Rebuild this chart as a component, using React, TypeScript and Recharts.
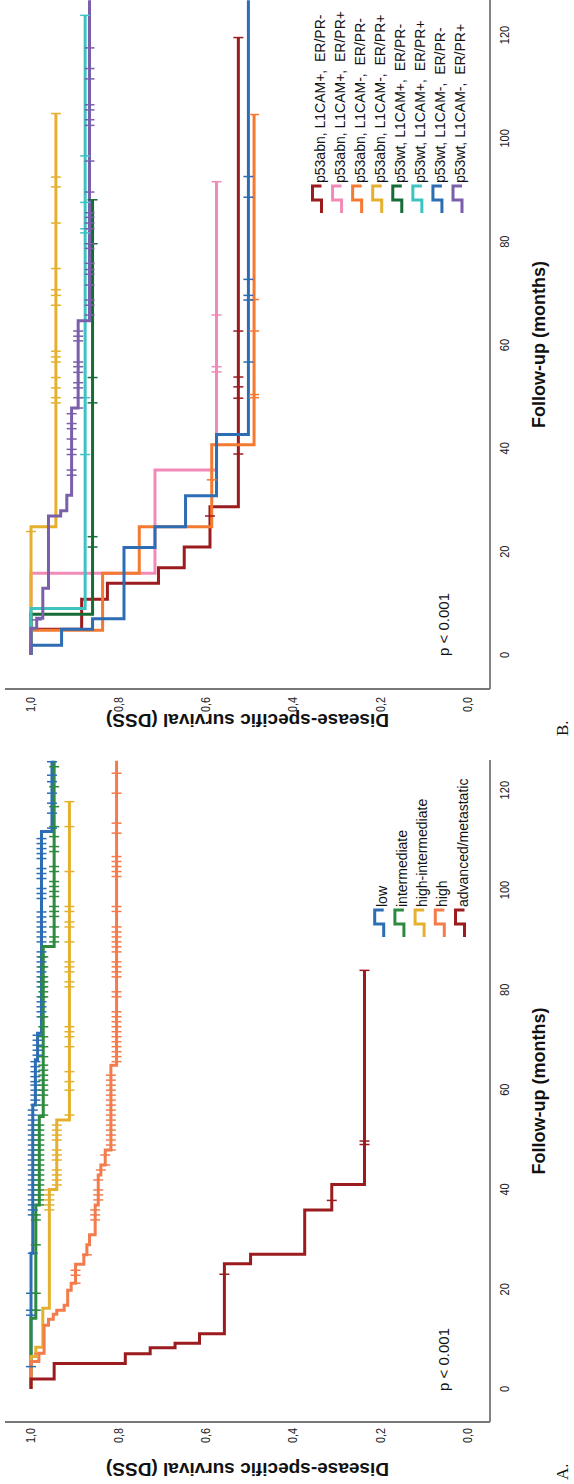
import React from "react";
import { ComposedChart, Line, Scatter, XAxis, YAxis } from "recharts";

type Step = [number, number]; // [month, survival]

const FONT = '"Liberation Sans", Arial, sans-serif';
const monthTicks = [0, 20, 40, 60, 80, 100, 120];
const survivalTicks = [0, 0.2, 0.4, 0.6, 0.8, 1.0];

// ---- Panel A: risk groups ----
const riskNames = ["low", "intermediate", "high-intermediate", "high", "advanced/metastatic"];
const riskColors = ["#2c6db4", "#2d8a3e", "#e6b02f", "#f47b4b", "#9c1b1f"];

const lowSteps: Step[] = [[0, 1], [27.2, 0.996], [56.9, 0.99], [66, 0.985], [71.3, 0.976], [111.7, 0.952], [125.9, 0.952]];
const intermediateSteps: Step[] = [[0, 1], [14.2, 0.989], [36.9, 0.981], [54.6, 0.972], [88.7, 0.947], [125.9, 0.947]];
const highIntSteps: Step[] = [[0, 1], [6.5, 0.989], [8.4, 0.973], [16.2, 0.958], [40, 0.941], [53.9, 0.912], [117.7, 0.912]];
const highSteps: Step[] = [
  [0, 1], [5.5, 0.982], [7.2, 0.97], [12.8, 0.96], [14, 0.949], [15, 0.941], [15.8, 0.924], [16.8, 0.916],
  [19.8, 0.908], [21.2, 0.898], [25, 0.879], [26.9, 0.872], [28.9, 0.866], [30.9, 0.853], [36.9, 0.846],
  [42.9, 0.84], [44.9, 0.83], [47.9, 0.817], [64.9, 0.804], [125.9, 0.804]
];
const advancedSteps: Step[] = [
  [0, 1], [2.0, 0.947], [5.1, 0.784], [7.1, 0.727], [8.3, 0.67], [9.2, 0.614], [11.1, 0.557],
  [25.1, 0.497], [27.0, 0.373], [35.9, 0.311], [41.0, 0.236], [83.9, 0.236]
];

const lowCensor = [4.5, 14.8, 15.8, 19.2, 27.2, 34.9, 35.9, 36.9, 37.9, 38.9, 39.9, 40.9, 41.9, 42.9, 43.9, 44.9, 45.9, 46.9,
  47.9, 48.9, 49.9, 50.9, 51.9, 52.9, 53.9, 54.9, 55.9, 56.9, 57.9, 58.9, 59.9, 60.9, 61.6, 62.6, 63.6, 64.6, 65.6, 66.9,
  67.9, 68.9, 69.9, 70.9, 74.6, 75.6, 76.6, 77.6, 78.6, 80.6, 81.6, 82.6, 83.6, 84.6, 85.6, 86.6, 87.6, 89.6, 90.6, 91.6,
  92.6, 93.6, 94.6, 95.6, 98.3, 99.3, 100.3, 102.3, 103.3, 104.3, 106.3, 107.3, 108.3, 109.3, 110.3, 112.4, 115.4, 117.4,
  119.4, 121.7, 123.0, 125.7];
const intermediateCensor = [15.8, 19.2, 28.9, 33.9, 34.9, 36.9, 37.9, 38.9, 39.9, 40.9, 41.9, 42.9, 43.9, 44.9, 45.9, 46.9,
  47.9, 48.9, 49.9, 50.9, 51.9, 52.9, 54.9, 56.9, 58.9, 59.9, 60.9, 61.9, 62.9, 63.9, 64.9, 66.6, 68.6, 70.6, 72.6, 74.6,
  78.6, 79.6, 80.6, 81.6, 82.6, 84.6, 86.6, 89.6, 90.6, 92.6, 94.7, 95.7, 96.7, 98.7, 99.7, 100.7, 101.7, 103.7, 104.7,
  107.7, 108.7, 110.7, 112.7, 116.7, 120.7, 124.7];
const highIntCensor = [35.9, 36.9, 37.9, 38.9, 39.9, 40.9, 41.9, 42.9, 43.9, 45.9, 46.9, 47.9, 49.9, 50.9, 51.9, 52.9, 54.9,
  59.9, 61.6, 63.6, 68.6, 70.6, 71.6, 72.6, 80.6, 81.6, 83.6, 84.6, 85.6, 89.6, 92.6, 93.6, 95.7, 96.7, 103.7, 112.7, 117.7];
const highCensor = [7.1, 21.2, 22.8, 23.8, 26.9, 33.9, 34.9, 35.9, 37.9, 38.9, 39.9, 41.9, 43.9, 44.9, 46.9, 47.9, 48.9,
  49.9, 50.9, 51.9, 52.9, 53.9, 54.9, 55.9, 56.9, 57.9, 58.9, 59.9, 60.9, 61.9, 62.9, 65.6, 66.6, 67.6, 68.6, 69.6, 70.6,
  71.6, 72.6, 73.6, 74.6, 75.6, 78.6, 79.6, 82.6, 83.6, 84.6, 85.6, 87.6, 88.6, 89.6, 90.6, 91.6, 92.6, 95.7, 96.7, 102.7,
  103.7, 104.7, 105.7, 106.7, 111.4, 113.4, 119.4, 123.4];
const advancedCensor = [23.0, 37.8, 49.0, 49.7, 83.9];

// ---- Panel B: p53 / L1CAM / ER-PR groups ----
const groupNames = [
  "p53abn, L1CAM+,  ER/PR-", "p53abn, L1CAM+,  ER/PR+", "p53abn, L1CAM-,  ER/PR-", "p53abn, L1CAM-,  ER/PR+",
  "p53wt, L1CAM+,  ER/PR-", "p53wt, L1CAM+,  ER/PR+", "p53wt, L1CAM-,  ER/PR-", "p53wt, L1CAM-,  ER/PR+"
];
const groupColors = ["#9c1b1f", "#f28ab8", "#f47a32", "#e6b02f", "#176b37", "#3ec3c3", "#2c6db4", "#7a5fab"];

const abnPosNegSteps: Step[] = [[0, 1], [5.0, 0.884], [10.8, 0.825], [13.9, 0.708], [16.9, 0.649], [20.9, 0.59], [28.7, 0.525], [119.5, 0.525]];
const abnPosPosSteps: Step[] = [[0, 1], [15.8, 0.716], [35.8, 0.575], [91.6, 0.575]];
const abnNegNegSteps: Step[] = [[0, 1], [4.8, 0.836], [15.8, 0.752], [24.8, 0.586], [40.7, 0.489], [104.6, 0.489]];
const abnNegPosSteps: Step[] = [[0, 1], [24.8, 0.943], [104.8, 0.943]];
const wtPosNegSteps: Step[] = [[0, 1], [7.9, 0.859], [88.1, 0.859]];
const wtPosPosSteps: Step[] = [[0, 1], [9.0, 0.876], [123.8, 0.876]];
const wtNegNegSteps: Step[] = [[0, 1], [1.9, 0.93], [5.0, 0.859], [7.0, 0.787], [20.8, 0.716], [24.8, 0.646], [30.8, 0.575], [42.7, 0.502], [126.7, 0.502]];
const wtNegPosSteps: Step[] = [[0, 1], [5.2, 0.987], [7.1, 0.973], [12.9, 0.96], [26.9, 0.932], [27.9, 0.918], [30.9, 0.907], [47.8, 0.892], [64.7, 0.866], [126.7, 0.866]];

const abnPosNegCensor = [26.9, 38.9, 49.7, 51.9, 53.8, 62.7, 119.5];
const abnPosPosCensor = [54.8, 55.8, 65.8, 91.6];
const abnNegNegCensor = [33.9, 49.8, 50.4, 62.7, 68.8, 104.6];
const abnNegPosCensor = [23.9, 48.8, 49.8, 51.7, 53.7, 56.7, 57.7, 58.8, 67.7, 69.6, 70.7, 74.8, 83.6, 90.6, 92.5, 104.8];
const wtPosNegCensor = [20.9, 22.9, 48.8, 53.7, 79.6, 88.1];
const wtPosPosCensor = [38.8, 49.8, 81.7, 82.5, 87.6, 96.6, 123.8];
const wtNegNegCensor = [56.7, 68.7, 69.6, 72.7, 88.6, 92.6];
const wtNegPosCensor = [6.8, 34.8, 35.8, 38.8, 39.8, 41.8, 43.8, 44.8, 46.7, 47.8, 49.8, 51.7, 52.7, 54.7, 55.8, 56.7, 60.8,
  61.7, 62.7, 65.8, 67.7, 68.7, 71.6, 73.7, 74.6, 75.8, 78.7, 79.6, 82.5, 83.6, 84.7, 85.6, 89.6, 95.6, 102.5, 103.6, 105.5,
  106.5, 111.5, 113.5, 117.5];

type Series = { steps: Step[]; censor: number[]; color: string };

const panelA: Series[] = [
  { steps: lowSteps, censor: lowCensor, color: riskColors[0] },
  { steps: intermediateSteps, censor: intermediateCensor, color: riskColors[1] },
  { steps: highIntSteps, censor: highIntCensor, color: riskColors[2] },
  { steps: highSteps, censor: highCensor, color: riskColors[3] },
  { steps: advancedSteps, censor: advancedCensor, color: riskColors[4] }
];
const panelB: Series[] = [
  { steps: abnPosNegSteps, censor: abnPosNegCensor, color: groupColors[0] },
  { steps: abnPosPosSteps, censor: abnPosPosCensor, color: groupColors[1] },
  { steps: abnNegNegSteps, censor: abnNegNegCensor, color: groupColors[2] },
  { steps: abnNegPosSteps, censor: abnNegPosCensor, color: groupColors[3] },
  { steps: wtPosNegSteps, censor: wtPosNegCensor, color: groupColors[4] },
  { steps: wtPosPosSteps, censor: wtPosPosCensor, color: groupColors[5] },
  { steps: wtNegNegSteps, censor: wtNegNegCensor, color: groupColors[6] },
  { steps: wtNegPosSteps, censor: wtNegPosCensor, color: groupColors[7] }
];

function survivalAt(steps: Step[], m: number) {
  let s = steps[0][1];
  for (const [t, v] of steps) if (t <= m) s = v;
  return s;
}

function XTick({ x, y, payload }: any) {
  return (
    <text transform={`translate(${x},${y}) scale(0.85,1)`} textAnchor="middle" dy="0.36em" fontSize={13} fill="#222" fontFamily={FONT}>
      {payload.value}
    </text>
  );
}

function YTick({ x, y, payload }: any) {
  return (
    <text transform={`translate(${x},${y}) scale(0.9,1)`} textAnchor="end" dy="0.36em" fontSize={12} fill="#222" fontFamily={FONT}>
      {Number(payload.value).toFixed(1).replace(".", ",")}
    </text>
  );
}

const censorShape = (color: string) => (props: any) => (
  <line x1={props.cx} x2={props.cx} y1={props.cy - 5} y2={props.cy + 5} stroke={color} strokeWidth={1.5} />
);

function Panel({ series, left, width, yAxisW, right, xDomain, tickGap }: {
  series: Series[]; left: number; width: number; yAxisW: number; right: number; xDomain: [number, number]; tickGap: number;
}) {
  return (
    <div style={{ position: "absolute", left, top: 0 }}>
      <ComposedChart width={width} height={574} margin={{ top: 5, right, left: 0, bottom: 0 }}>
        <XAxis type="number" dataKey="m" domain={xDomain} ticks={monthTicks} allowDataOverflow height={84}
          tickSize={0} tickMargin={14} tick={<XTick />} axisLine={{ stroke: "#777", strokeWidth: 1.8 }} tickLine={false} />
        <YAxis type="number" dataKey="s" domain={[-0.0515, 1.0596]} ticks={survivalTicks} allowDataOverflow width={yAxisW}
          tickSize={0} tickMargin={tickGap} tick={<YTick />} axisLine={{ stroke: "#777", strokeWidth: 1.8 }} tickLine={false} />
        {series.map((sr, i) => (
          <Line key={`l${i}`} data={sr.steps.map(([m, s]) => ({ m, s }))} dataKey="s" type="stepAfter"
            stroke={sr.color} strokeWidth={3} dot={false} activeDot={false} isAnimationActive={false} />
        ))}
        {series.map((sr, i) => (
          <Scatter key={`c${i}`} data={sr.censor.map((m) => ({ m, s: survivalAt(sr.steps, m) }))} dataKey="s"
            shape={censorShape(sr.color)} isAnimationActive={false} />
        ))}
      </ComposedChart>
    </div>
  );
}

function LegendItems({ names, colors, x0, cy0, gap }: { names: string[]; colors: string[]; x0: number; cy0: number; gap: number }) {
  return (
    <g>
      {names.map((n, i) => {
        const cy = cy0 + gap * i;
        return (
          <g key={n}>
            <path d={`M${x0} ${cy + 4.5} H${x0 + 13} V${cy - 4.5} H${x0 + 27} V${cy + 4.5}`} fill="none" stroke={colors[i]} strokeWidth={3} />
            <text x={x0 + 30} y={cy + 7.5} fontSize={14} fontFamily={FONT} fill="#111" style={{ whiteSpace: "pre" }}>{n}</text>
          </g>
        );
      })}
    </g>
  );
}

export default function App() {
  return (
    <div style={{ position: "absolute", left: 0, top: 0, width: 1484, height: 574, background: "#fff",
      transform: "translateY(1484px) rotate(-90deg)", transformOrigin: "0 0" }}>
      <Panel series={panelA} left={0} width={740} yAxisW={62} right={16} xDomain={[-6.6, 126.05]} tickGap={6} />
      <Panel series={panelB} left={740} width={744} yAxisW={55} right={0} xDomain={[-6.58, 126.77]} tickGap={8} />
      <svg width={1484} height={574} style={{ position: "absolute", left: 0, top: 0, pointerEvents: "none" }}>
        {/* panel A texts */}
        <text x={93} y={449} fontSize={15} fontFamily={FONT} fill="#111">p &lt; 0.001</text>
        <text x={393} y={545} fontSize={18} fontWeight="bold" fontFamily={FONT} textAnchor="middle" fill="#111">Follow-up (months)</text>
        <text transform="translate(14,247.5) rotate(-90)" fontSize={19} fontWeight="bold" fontFamily={FONT} textAnchor="middle" dy="0.35em" fill="#111">
          Disease-specific survival (DSS)
        </text>
        <LegendItems names={riskNames} colors={riskColors} x0={547} cy0={379.2} gap={20.2} />
        <text x={4} y={568} fontSize={17} fontFamily='"Liberation Serif", "Times New Roman", serif' fill="#111">A.</text>
        {/* panel B texts */}
        <text x={828} y={449} fontSize={15} fontFamily={FONT} fill="#111">p &lt; 0.001</text>
        <text x={1139.5} y={545} fontSize={18} fontWeight="bold" fontFamily={FONT} textAnchor="middle" fill="#111">Follow-up (months)</text>
        <text transform="translate(763,247.5) rotate(-90)" fontSize={19} fontWeight="bold" fontFamily={FONT} textAnchor="middle" dy="0.35em" fill="#111">
          Disease-specific survival (DSS)
        </text>
        <LegendItems names={groupNames} colors={groupColors} x0={1271} cy0={317} gap={20.07} />
        <text x={748} y={568} fontSize={17} fontFamily='"Liberation Serif", "Times New Roman", serif' fill="#111">B.</text>
      </svg>
    </div>
  );
}
